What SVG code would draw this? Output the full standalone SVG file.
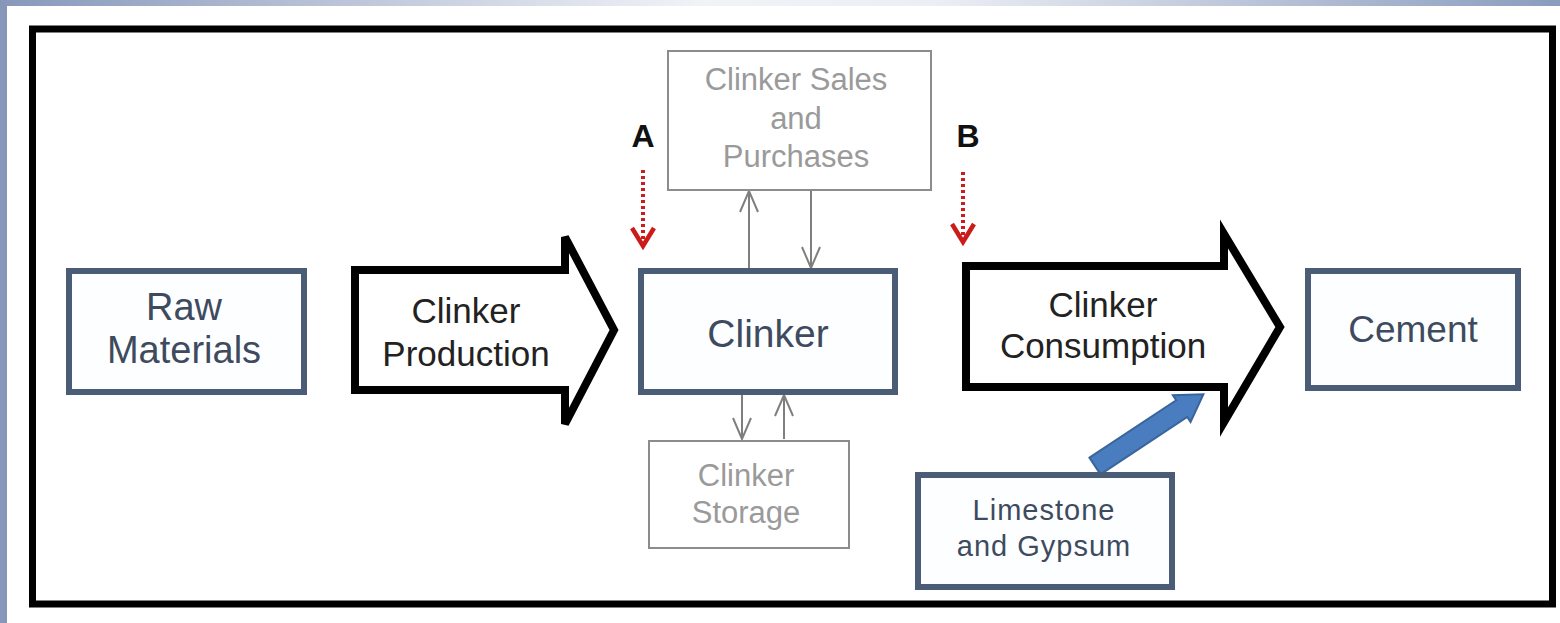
<svg xmlns="http://www.w3.org/2000/svg" width="1560" height="623" viewBox="0 0 1560 623">
<defs>
<linearGradient id="topg" x1="0" y1="0" x2="1" y2="0">
<stop offset="0" stop-color="#8798bb"/>
<stop offset="0.45" stop-color="#f2f3f7"/>
<stop offset="0.6" stop-color="#eceef4"/>
<stop offset="1" stop-color="#8a9cbe"/>
</linearGradient>
<marker id="gv" viewBox="0 0 24 24" refX="23" refY="12" markerWidth="24" markerHeight="24" markerUnits="userSpaceOnUse" orient="auto">
<path d="M2,3 L23,12 L2,21" fill="none" stroke="#7f7f7f" stroke-width="2"/>
</marker>
<marker id="rv" viewBox="0 0 26 26" refX="22" refY="13" markerWidth="26" markerHeight="26" markerUnits="userSpaceOnUse" orient="auto">
<path d="M4,2 L22,13 L4,24" fill="none" stroke="#cc1b1b" stroke-width="4.5"/>
</marker>
<style>
.box{fill:#fdfeff;stroke:#4b5d76;stroke-width:6}
.gbox{fill:#ffffff;stroke:#8c8c8c;stroke-width:2}
.bt{font-family:"Liberation Sans",Arial,sans-serif;fill:#3e4b5e;text-anchor:middle}
.gt{font-family:"Liberation Sans",Arial,sans-serif;fill:#9a9a9a;text-anchor:middle;font-size:31px}
.at{font-family:"Liberation Sans",Arial,sans-serif;fill:#222222;text-anchor:middle;font-size:35px}
.big{fill:#ffffff;stroke:#000000;stroke-width:8;stroke-linejoin:miter}
.thin{stroke:#7f7f7f;stroke-width:2;fill:none}
.red{stroke:#cc1b1b;stroke-width:4;stroke-dasharray:3 3;fill:none}
.lab{font-family:"Liberation Sans",Arial,sans-serif;font-weight:bold;font-size:32px;fill:#111;text-anchor:middle}
</style>
</defs>
<rect x="0" y="0" width="1560" height="623" fill="#ffffff"/>
<rect x="0" y="0" width="1560" height="6" fill="url(#topg)"/>
<rect x="0" y="0" width="7" height="623" fill="#8697ba"/>
<rect id="frame" x="32.5" y="29" width="1520" height="575" fill="#ffffff" stroke="#000" stroke-width="7"/>

<g id="connectors">
<line class="thin" x1="749" y1="268" x2="749" y2="191" marker-end="url(#gv)"/>
<line class="thin" x1="811" y1="191" x2="811" y2="268" marker-end="url(#gv)"/>
<line class="thin" x1="742" y1="395" x2="742" y2="439" marker-end="url(#gv)"/>
<line class="thin" x1="784" y1="439" x2="784" y2="395" marker-end="url(#gv)"/>
<line class="red" x1="643" y1="170" x2="643" y2="246" marker-end="url(#rv)"/>
<line class="red" x1="963" y1="172" x2="963" y2="242" marker-end="url(#rv)"/>
<path transform="translate(1095,466) rotate(-33.5)" d="M0,-10 L104,-10 L104,-16 L130,0 L104,16 L104,10 L0,10 Z" fill="#4a7dbf" stroke="#3a659c" stroke-width="2"/>
</g>

<g id="raw-materials">
<rect class="box" x="69" y="271" width="235" height="121"/>
<text class="bt" x="184" y="320" font-size="38">Raw</text>
<text class="bt" x="184" y="363" font-size="38">Materials</text>
</g>

<g id="clinker-production">
<path class="big" d="M355,270 L565,270 L565,237 L614,330 L565,424 L565,390 L355,390 Z"/>
<text class="at" x="466" y="323">Clinker</text>
<text class="at" x="466" y="366">Production</text>
</g>

<g id="clinker">
<rect class="box" x="641" y="271" width="254" height="121"/>
<text class="bt" x="768" y="347" font-size="39">Clinker</text>
</g>

<g id="clinker-sales">
<rect class="gbox" x="668" y="51" width="263" height="139"/>
<text class="gt" x="796" y="90">Clinker Sales</text>
<text class="gt" x="796" y="129">and</text>
<text class="gt" x="796" y="167">Purchases</text>
</g>

<g id="clinker-storage">
<rect class="gbox" x="649" y="441" width="200" height="107"/>
<text class="gt" x="746" y="486" font-size="33">Clinker</text>
<text class="gt" x="746" y="523" font-size="33">Storage</text>
</g>

<g id="label-a"><text class="lab" x="643" y="147">A</text></g>
<g id="label-b"><text class="lab" x="968" y="147">B</text></g>

<g id="clinker-consumption">
<path class="big" d="M966,266 L1224,266 L1224,234 L1280,327 L1224,422 L1224,387 L966,387 Z"/>
<text class="at" x="1103" y="317">Clinker</text>
<text class="at" x="1103" y="358">Consumption</text>
</g>

<g id="cement">
<rect class="box" x="1308" y="271" width="210" height="117"/>
<text class="bt" x="1413" y="342" font-size="37">Cement</text>
</g>

<g id="limestone-gypsum">
<rect class="box" x="918" y="475" width="254" height="112"/>
<text class="bt" x="1044" y="520" font-size="29" letter-spacing="1">Limestone</text>
<text class="bt" x="1044" y="556" font-size="29" letter-spacing="1">and Gypsum</text>
</g>
</svg>
